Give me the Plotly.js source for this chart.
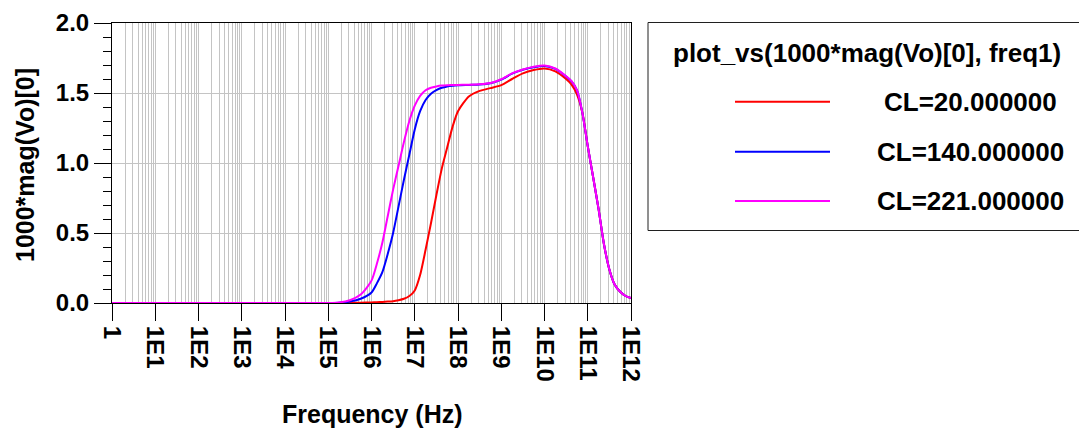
<!DOCTYPE html>
<html>
<head>
<meta charset="utf-8">
<script src="https://cdn.plot.ly/plotly-3.0.1.min.js"></script>
<style>
  html, body { margin: 0; padding: 0; background: #ffffff; }
  #chart { width: 1079px; height: 439px; }
</style>
</head>
<body>
<div id="chart"></div>
<script>
// ---- data ----
const freq = [1, 10, 100, 1e3, 1e4, 1e5, 1.78e5, 3.16e5, 5.62e5, 1e6, 1.33e6, 1.78e6, 2.37e6,
  3.16e6, 4.22e6, 5.62e6, 7.5e6, 1e7, 1.33e7, 1.78e7, 2.37e7, 3.16e7, 4.22e7, 5.62e7, 7.5e7,
  1e8, 1.78e8, 3.16e8, 5.62e8, 1e9, 1.78e9, 3.16e9, 5.62e9, 1e10, 1.78e10, 3.16e10, 4.22e10,
  5.62e10, 7.5e10, 1e11, 1.33e11, 1.78e11, 2.37e11, 3.16e11, 4.22e11, 5.62e11, 7.5e11, 1e12];

const magCL20 = [0, 0, 0, 0, 0, 0, 0, 0.001, 0.002, 0.004, 0.006, 0.008, 0.010,
  0.013, 0.02, 0.03, 0.05, 0.09, 0.20, 0.38, 0.57, 0.77, 0.96, 1.11, 1.26,
  1.37, 1.475, 1.515, 1.535, 1.556, 1.60, 1.64, 1.664, 1.675, 1.655, 1.60, 1.56,
  1.49, 1.36, 1.12, 0.90, 0.67, 0.42, 0.24, 0.13, 0.08, 0.05, 0.035];

const magCL140 = [0, 0, 0, 0, 0, 0, 0.002, 0.01, 0.03, 0.075, 0.14, 0.22, 0.35,
  0.50, 0.69, 0.88, 1.06, 1.24, 1.37, 1.45, 1.495, 1.52, 1.537, 1.547, 1.552,
  1.555, 1.558, 1.561, 1.570, 1.596, 1.638, 1.666, 1.684, 1.692, 1.672, 1.618, 1.583,
  1.52, 1.36, 1.12, 0.90, 0.67, 0.42, 0.24, 0.13, 0.08, 0.05, 0.035];

const magCL221 = [0, 0, 0, 0, 0, 0, 0.004, 0.02, 0.06, 0.16, 0.28, 0.43, 0.62,
  0.81, 0.98, 1.15, 1.30, 1.41, 1.48, 1.52, 1.538, 1.547, 1.553, 1.556, 1.557,
  1.558, 1.559, 1.562, 1.571, 1.598, 1.64, 1.668, 1.688, 1.697, 1.675, 1.62, 1.585,
  1.52, 1.36, 1.12, 0.90, 0.67, 0.42, 0.24, 0.13, 0.08, 0.05, 0.035];

const seriesNames = ['CL=20.000000', 'CL=140.000000', 'CL=221.000000'];
const seriesColors = ['#ff0000', '#0000ff', '#ff00ff'];
const legendTitle = 'plot_vs(1000*mag(Vo)[0], freq1)';

const xTickVals = [1, 10, 100, 1e3, 1e4, 1e5, 1e6, 1e7, 1e8, 1e9, 1e10, 1e11, 1e12];
const xTickText = ['1', '1E1', '1E2', '1E3', '1E4', '1E5', '1E6', '1E7', '1E8', '1E9', '1E10', '1E11', '1E12'];
const xTitle = 'Frequency (Hz)';
const yTitle = '1000*mag(Vo)[0]';

// ---- figure ----
const W = 1079, H = 439;
const M = {l: 112, r: 448, t: 23, b: 136};
const PW = W - M.l - M.r, PH = H - M.t - M.b;
const px2x = px => (px - M.l) / PW;
const px2y = py => (H - M.b - py) / PH;

const FONT = 'Liberation Sans, Arial, sans-serif';
const boldFont = size => ({family: FONT, size: size, color: '#000', weight: 'bold'});
const ys = [magCL20, magCL140, magCL221];
const traces = ys.map((y, i) => ({
  type: 'scatter', mode: 'lines', x: freq, y: y, name: seriesNames[i],
  line: {color: seriesColors[i], width: 2, shape: 'spline', smoothing: 0.7},
  showlegend: false, hoverinfo: 'skip'
}));

const shapes = [{
  type: 'rect', xref: 'paper', yref: 'paper',
  x0: px2x(648), x1: px2x(1090), y0: px2y(230.5), y1: px2y(22.5),
  line: {color: '#202020', width: 1}, fillcolor: 'rgba(0,0,0,0)'
}];
const legendRowY = [101.7, 151.7, 201];
const annotations = [
  {xref: 'paper', yref: 'paper', x: px2x(867), y: px2y(53), xanchor: 'center', yanchor: 'middle',
   text: legendTitle, showarrow: false, font: boldFont(26)},
  {xref: 'paper', yref: 'paper', x: px2x(372), y: px2y(414), xanchor: 'center', yanchor: 'middle',
   text: xTitle, showarrow: false, font: boldFont(25)},
  {xref: 'paper', yref: 'paper', x: px2x(25), y: px2y(165), xanchor: 'center', yanchor: 'middle',
   text: yTitle, textangle: -90, showarrow: false, font: boldFont(25)}
];
seriesNames.forEach((n, i) => {
  shapes.push({type: 'line', xref: 'paper', yref: 'paper',
    x0: px2x(735), x1: px2x(830), y0: px2y(legendRowY[i]), y1: px2y(legendRowY[i]),
    line: {color: seriesColors[i], width: 2}});
  annotations.push({xref: 'paper', yref: 'paper', x: px2x(970), y: px2y(legendRowY[i]),
    xanchor: 'center', yanchor: 'middle', text: n, showarrow: false, font: boldFont(26)});
});

const layout = {
  width: W, height: H, margin: M,
  paper_bgcolor: '#ffffff', plot_bgcolor: '#ffffff',
  font: {family: FONT, color: '#000', weight: 'bold'},
  showlegend: false,
  xaxis: {
    type: 'log', range: [0, 12], tickmode: 'array', tickvals: xTickVals, ticktext: xTickText,
    tickangle: 90, ticks: 'outside', ticklen: 17, tickcolor: '#000', tickwidth: 1,
    tickfont: boldFont(24),
    showgrid: true, gridcolor: '#c4c4c4', gridwidth: 1,
    minor: {dtick: 'D1', showgrid: true, gridcolor: '#c4c4c4', gridwidth: 1, ticks: ''},
    showline: true, linecolor: '#000', linewidth: 1, mirror: true, zeroline: false,
    layer: 'below traces', automargin: false
  },
  yaxis: {
    range: [0, 2], tickmode: 'linear', tick0: 0, dtick: 0.5, tickformat: '.1f',
    ticks: 'outside', ticklen: 17, tickcolor: '#000', tickwidth: 1,
    tickfont: boldFont(24),
    minor: {dtick: 0.1, ticks: 'outside', ticklen: 8, tickcolor: '#000', showgrid: false},
    showgrid: true, gridcolor: '#c4c4c4', gridwidth: 1,
    showline: true, linecolor: '#000', linewidth: 1, mirror: true, zeroline: false,
    layer: 'below traces', automargin: false
  },
  shapes: shapes,
  annotations: annotations
};

Plotly.newPlot('chart', traces, layout, {staticPlot: true, displayModeBar: false});
</script>
</body>
</html>
